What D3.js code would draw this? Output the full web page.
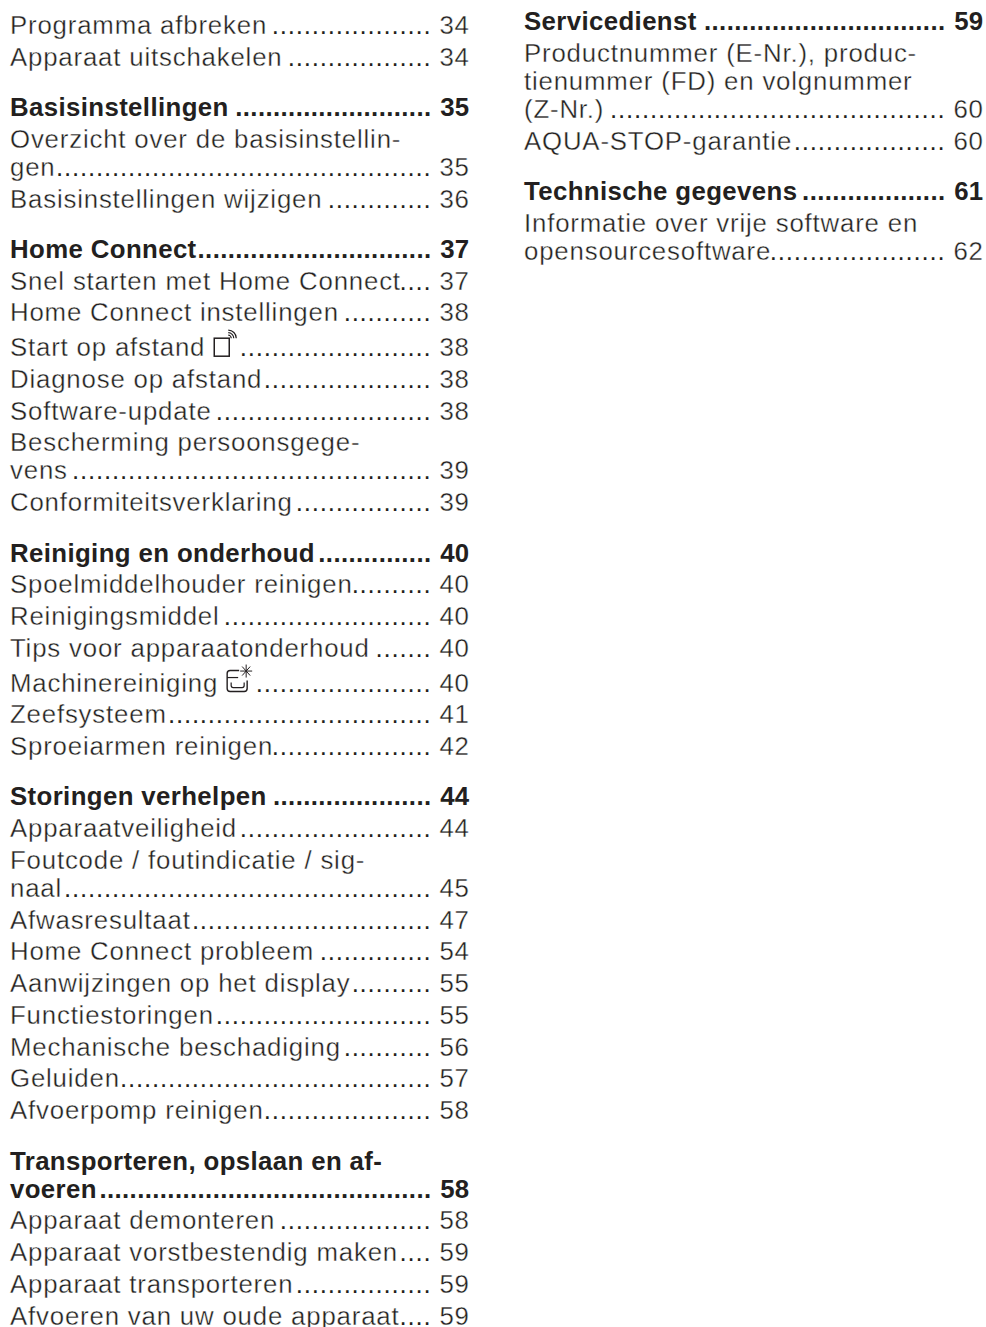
<!DOCTYPE html>
<html>
<head>
<meta charset="utf-8">
<style>
  html, body { margin: 0; background: #fff; }
  svg { display: block; }
  text { font-family: "Liberation Sans", sans-serif; font-size: 25.8px; fill: #231f20; }
  .item text { letter-spacing: 0.82px; }
  .item .label, .item .page { stroke: #fff; stroke-width: 0.35px; }
  .head text { font-weight: bold; letter-spacing: 0.38px; }
  .head .page { letter-spacing: 0; }
</style>
</head>
<body>
<script src="https://cdn.jsdelivr.net/npm/d3@7"></script>
<script>
var width = 986, height = 1327;

// one entry per toc line, wrapped labels keep their hyphenated lines
var leftLabels = [
  ["Programma afbreken"], ["Apparaat uitschakelen"],
  ["Basisinstellingen"], ["Overzicht over de basisinstellin-", "gen"], ["Basisinstellingen wijzigen"],
  ["Home Connect"], ["Snel starten met Home Connect"], ["Home Connect instellingen"], ["Start op afstand"],
  ["Diagnose op afstand"], ["Software-update"], ["Bescherming persoonsgege-", "vens"], ["Conformiteitsverklaring"],
  ["Reiniging en onderhoud"], ["Spoelmiddelhouder reinigen"], ["Reinigingsmiddel"], ["Tips voor apparaatonderhoud"],
  ["Machinereiniging"], ["Zeefsysteem"], ["Sproeiarmen reinigen"],
  ["Storingen verhelpen"], ["Apparaatveiligheid"], ["Foutcode / foutindicatie / sig-", "naal"], ["Afwasresultaat"],
  ["Home Connect probleem"], ["Aanwijzingen op het display"], ["Functiestoringen"], ["Mechanische beschadiging"],
  ["Geluiden"], ["Afvoerpomp reinigen"],
  ["Transporteren, opslaan en af-", "voeren"], ["Apparaat demonteren"], ["Apparaat vorstbestendig maken"],
  ["Apparaat transporteren"], ["Afvoeren van uw oude apparaat"]
];
var leftPages = [34, 34, 35, 35, 36, 37, 37, 38, 38, 38, 38, 39, 39, 40, 40, 40, 40, 40, 41, 42, 44, 44, 45, 47, 54, 55, 55, 56, 57, 58, 58, 58, 59, 59, 59];
var leftHeads = ["Basisinstellingen", "Home Connect", "Reiniging en onderhoud", "Storingen verhelpen", "Transporteren, opslaan en af-"];

var rightLabels = [
  ["Servicedienst"], ["Productnummer (E-Nr.), produc-", "tienummer (FD) en volgnummer", "(Z-Nr.)"], ["AQUA-STOP-garantie"],
  ["Technische gegevens"], ["Informatie over vrije software en", "opensourcesoftware"]
];
var rightPages = [59, 60, 60, 61, 62];
var rightHeads = ["Servicedienst", "Technische gegevens"];

var iconLabels = { "Start op afstand": "remote", "Machinereiniging": "clean" };

var svg = d3.select("body").append("svg").attr("width", width).attr("height", height);

var rowStep = 31.75, wrapStep = 28, headGap = 18.6, iconGap = 3;
var itemPitch = 8, headPitch = 7.55;

function drawColumn(labels, pages, heads, x0, x1, y0) {
  var y = y0;
  labels.forEach(function(lines, i) {
    var isHead = heads.indexOf(lines[0]) >= 0;
    if (isHead && i > 0) y += headGap;
    var hasIcon = iconLabels[lines[0]];
    if (hasIcon) y += iconGap;
    var g = svg.append("g").attr("class", isHead ? "head" : "item");
    lines.forEach(function(line, k) {
      if (k > 0) y += wrapStep;
      g.append("text").attr("class", "label").attr("x", x0).attr("y", y).text(line);
    });
    var last = g.selectAll("text").nodes().pop();
    var end = x0 + last.getComputedTextLength();
    if (hasIcon) { drawIcon(hasIcon, end + 9, y); end += 33; }
    g.append("text").attr("class", "page").attr("x", isHead ? x1 : x1 + 0.8).attr("y", y)
      .attr("text-anchor", "end").text(pages[i]);
    // leader dots stay on a grid counted from the right edge
    var dotEnd = x1 - 37.5;
    var n = isHead ? Math.floor((dotEnd - end) / headPitch) : Math.floor((dotEnd - end + 1.6) / itemPitch);
    g.append("text").attr("class", "dots").attr("x", dotEnd).attr("y", y).attr("text-anchor", "end")
      .text(d3.range(n).map(function() { return "."; }).join(""));
    y += rowStep;
  });
}

function drawIcon(kind, x, y) {
  var g = svg.append("g").attr("transform", "translate(" + x + "," + y + ")")
    .attr("fill", "none").attr("stroke", "#231f20");
  if (kind == "remote") {
    g.append("rect").attr("x", 0).attr("y", -18).attr("width", 15).attr("height", 18).attr("stroke-width", 1.5);
    [3, 5.5, 8].forEach(function(r) {
      var arc = d3.arc().innerRadius(r).outerRadius(r).startAngle(0).endAngle(Math.PI / 2);
      g.append("path").attr("transform", "translate(14,-18)").attr("d", arc()).attr("stroke-width", 1.2);
    });
  } else {
    g.append("path").attr("d", "M12,-21H3Q0,-21 0,-18V-3Q0,0 3,0H17Q20,0 20,-3V-11").attr("stroke-width", 1.4);
    g.append("path").attr("d", "M0,-14H11").attr("stroke-width", 1.2);
    g.append("path").attr("d", "M4,-9V-6Q4,-4 6,-4H15Q17,-4 17,-6V-9").attr("stroke-width", 1.2);
    g.append("path").attr("d", "M19,-27V-14M13,-20.5H25M15,-25L23,-16M23,-25L15,-16").attr("stroke-width", 1);
  }
}

drawColumn(leftLabels, leftPages, leftHeads, 10, 469, 34);
drawColumn(rightLabels, rightPages, rightHeads, 524, 983, 30);
</script>
</body>
</html>
